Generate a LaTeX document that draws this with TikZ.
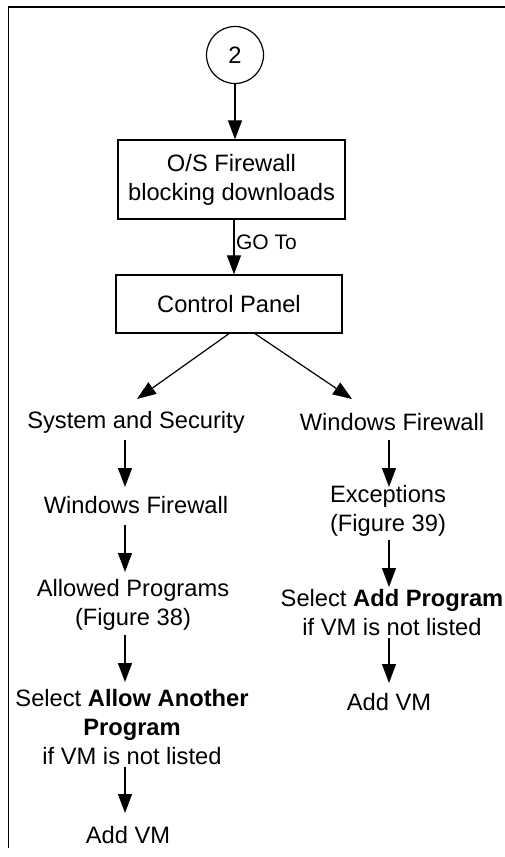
\documentclass[tikz,border=0pt]{standalone}
\usepackage{fontspec}
\setmainfont{Liberation Sans}
\usetikzlibrary{arrows.meta}
\begin{document}
\begin{tikzpicture}[x=1pt,y=-1pt,
  mainfont/.style={font=\fontsize{23.7}{29}\selectfont},
  arr/.style={-{Triangle[length=19pt,width=14pt]}, line width=1.2pt},
  boxn/.style={draw, line width=1.3pt, inner sep=0pt, align=center, mainfont},
  txt/.style={inner sep=0pt, align=center, mainfont},
  framel/.style={line width=1.5pt}]
\useasboundingbox (0,0) rectangle (505,857);
\draw[framel] (505,7) -- (8.5,7) -- (8.5,848);

% nodes
\node[draw, circle, line width=1.2pt, minimum size=57pt, inner sep=0pt, mainfont] (c2) at (235,55) {2};
\node[boxn, minimum width=227pt, minimum height=79pt] (b1) at (231.5,179.5) {O/S Firewall\\blocking downloads};
\node[boxn, minimum width=226pt, minimum height=58pt] (b2) at (229,304) {Control Panel};

\node[txt] (ss)   at (136,422) {System and Security};
\node[txt] (wf1)  at (136,505) {Windows Firewall};
\node[txt] (ap)   at (133,605) {Allowed Programs\\(Figure 38)};
\node[txt] (sel)  at (132,727) {Select \textbf{Allow Another}\\\textbf{Program}\\if VM is not listed};
\node[txt] (add1) at (128,835) {Add VM};

\node[txt] (wf2)  at (392,422) {Windows Firewall};
\node[txt] (ex)   at (388,511) {Exceptions\\(Figure 39)};
\node[txt] (sap)  at (392,613) {Select \textbf{Add Program}\\if VM is not listed};
\node[txt] (add2) at (389,702) {Add VM};

% connectors
\draw[arr] (c2.south) -- (c2.south |- b1.north);
\draw[arr] ([xshift=2.5pt]b1.south) -- node[pos=0.41, anchor=west, inner sep=1.5pt, font=\fontsize{21}{25}\selectfont]{GO To} ([xshift=2.5pt]b1.south |- b2.north);

\draw[arr] (b2.south) -- ([shift={(1,-23)}]ss.center);
\draw[arr] ([shift={(26,0)}]b2.south) -- ([shift={(-40,-23)}]wf2.center);

\draw[arr] ([shift={(-11,18)}]ss.center) -- ([shift={(-11,-18)}]wf1.center);
\draw[arr] ([shift={(-11,20)}]wf1.center) -- ([shift={(-8,-33)}]ap.center);
\draw[arr] ([shift={(-8,30)}]ap.center) -- ([shift={(-7,-45)}]sel.center);
\draw[arr] ([shift={(-7,40)}]sel.center) -- ([shift={(-3,-22)}]add1.center);

\draw[arr] ([shift={(-3,18)}]wf2.center) -- ([shift={(1,-24)}]ex.center);
\draw[arr] ([shift={(1,29)}]ex.center) -- ([shift={(-3,-26)}]sap.center);
\draw[arr] ([shift={(-3,25)}]sap.center) -- ([shift={(0,-19)}]add2.center);
\end{tikzpicture}
\end{document}
